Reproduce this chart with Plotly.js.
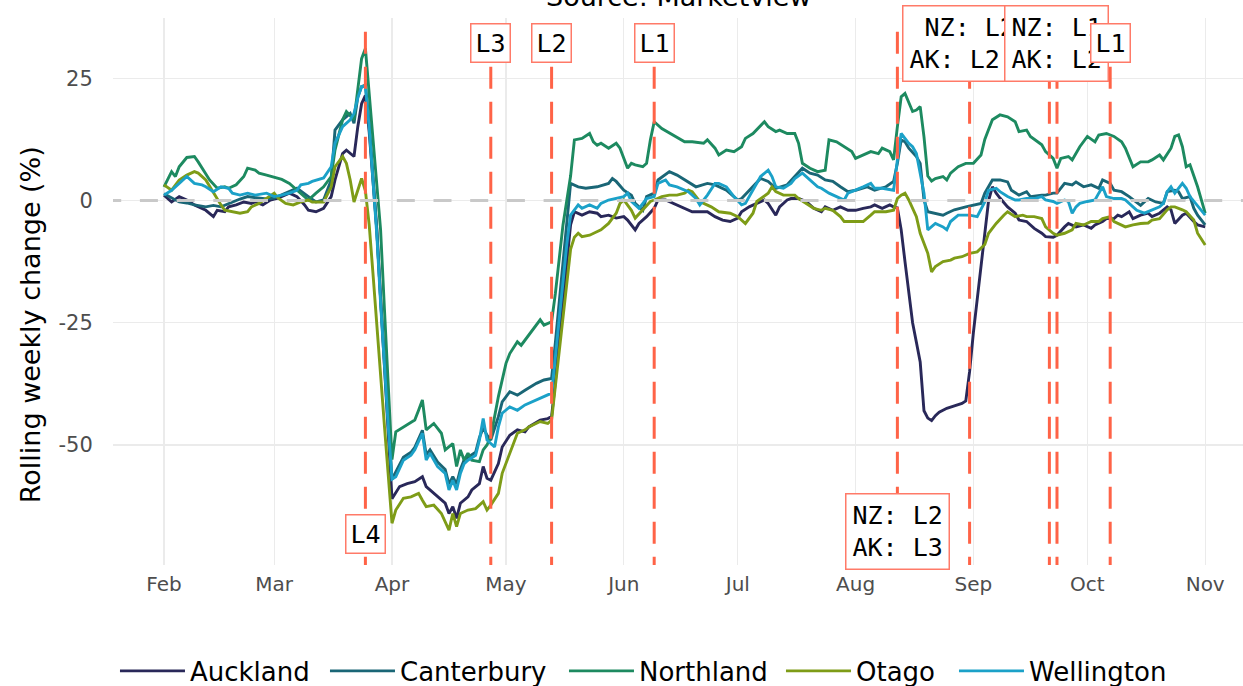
<!DOCTYPE html>
<html><head><meta charset="utf-8">
<script src="https://cdn.plot.ly/plotly-3.0.1.min.js"></script>
<style>html,body{margin:0;padding:0;background:#fff}#chart{width:1243px;height:686px}</style>
</head><body><div id="chart"></div>
<script>
// ---------- DATA ----------
const startDate = '2020-02-01';   // day 0 of every "days" array below
const seriesNames = ['Auckland', 'Canterbury', 'Northland', 'Otago', 'Wellington'];

const aucklandDays = [0,2,4,6,8,9,11,13,14,16,17,19,21,23,24,26,28,30,31,33,35,37,38,40,42,44,45,47,48,50,51,52,53,54,55,56,57,58,59,60,62,64,66,68,69,70,72,74,75,76,77,78,80,81,83,84,85,86,88,89,91,93,95,96,99,101,102,103,104,105,106,107,108,110,112,114,115,117,119,121,122,124,125,127,129,130,132,134,136,137,139,141,143,145,147,149,151,152,154,156,158,159,161,162,164,165,167,169,171,173,174,176,178,180,182,184,186,187,189,191,192,193,194,195,196,197,198,199,200,201,202,203,204,206,208,210,211,212,213,214,215,216,217,218,219,220,222,224,225,227,229,231,232,234,235,237,238,240,242,244,245,247,248,250,251,252,254,255,257,259,260,262,264,265,266,268,269,271,272,274];
const aucklandValues = [1.1,-0.3,0.8,0.1,-0.9,-1.3,-2.0,-3.3,-2.0,-2.3,-1.3,-0.9,-0.3,-0.6,-0.3,-0.9,0.1,0.5,0.8,1.5,0.8,-0.9,-2.0,-2.3,-1.6,0.8,4.2,9.6,10.3,9.0,15.1,19.8,21.5,14,4,-6,-20,-34,-48,-61,-58.5,-57.9,-57.5,-56.5,-58.5,-59.2,-60.6,-61.9,-64.0,-62.6,-65.0,-61.9,-60.6,-59.2,-57.9,-54.4,-56.8,-57.2,-53.8,-50.4,-48.0,-46.9,-47.3,-46.3,-44.9,-44.6,-44.2,-37,-28,-20,-12,-5,-2.3,-3.0,-2.3,-2.6,-3.3,-3.0,-3.6,-3.3,-4.0,-6.0,-4.7,-3.3,-1.6,0.1,0.1,-0.6,-1.3,-1.6,-2.3,-2.3,-2.3,-3.3,-4.0,-4.3,-3.6,-2.3,-1.3,-0.6,0.1,-0.6,-3.0,-1.3,0.1,0.4,0.4,-0.2,-1.6,-2.3,-1.3,-2.0,-1.3,-2.0,-2.0,-1.6,-1.3,-0.9,-1.6,-0.9,-1.3,-1.5,-6,-12.5,-19,-25,-29,-33,-43,-44.5,-45,-44,-43.3,-42.5,-42,-41.5,-41,-35,-27,-20,-13,-6,0,2.8,1.5,0.5,-1.3,-2.6,-4.0,-4.3,-5.7,-6.7,-7.4,-7.5,-7.1,-5.4,-4.7,-5.4,-5.0,-5.7,-5.0,-4.3,-3.7,-3.7,-3.0,-3.3,-2.3,-3.7,-3.0,-2.6,-3.3,-2.6,-1.3,-1.9,-4.7,-3.0,-2.6,-4.3,-5.0,-5.4];

const canterburyDays = [0,2,4,6,8,11,13,15,18,20,22,25,27,29,32,35,38,40,42,44,45,47,49,50,51,52,53,54,55,56,57,58,59,60,61,63,65,66,68,69,70,72,74,75,76,77,78,79,80,82,83,84,85,86,88,89,91,93,95,98,100,102,103,104,105,106,107,109,111,114,117,118,119,121,123,124,126,127,129,130,133,135,137,140,143,145,148,151,152,155,157,159,161,164,166,168,170,172,174,176,178,180,182,185,187,190,192,193,194,195,196,198,199,200,201,203,205,206,208,211,213,215,216,217,218,220,222,223,225,227,228,231,232,234,235,237,239,240,242,244,246,247,249,250,252,254,256,257,259,261,263,264,266,267,268,270,271,272,274];
const canterburyValues = [1.4,0.5,-0.3,-0.5,-0.9,-1.3,-1.0,-1.3,-0.3,0.3,0.8,0.5,0.3,0.5,1.5,2.5,0.8,-0.3,0.1,4.2,14.4,16.5,17.8,15.8,21.2,23.3,23.6,16,5,-6,-20,-33,-46,-57,-55.5,-52.5,-51.5,-50.5,-47,-52,-51,-53.5,-55,-58,-56.5,-58,-55,-53,-52.5,-51.5,-48.5,-46.5,-48,-49,-44.2,-41.2,-39.1,-39.8,-38.8,-37.4,-36.7,-36.4,-29,-21,-13,-5,3.5,2.8,2.5,2.8,3.5,4.5,3.9,2.1,1.1,-0.6,-2.0,0.8,1.5,4.2,5.9,5.2,4.2,2.8,3.5,3.2,2.1,0.1,0.4,2.8,4.5,3.9,2.5,3.2,4.9,6.6,5.6,5.2,4.2,3.9,2.8,1.8,2.1,2.8,2.1,2.8,3.9,7.6,12.4,12.0,10.7,9.0,7.6,0.1,-2.3,-2.6,-3.0,-2.6,-1.9,-1.3,-0.9,-0.6,1.5,2.8,4.2,4.2,3.8,2.1,1.1,1.8,0.8,1.1,1.1,1.5,1.5,3.5,3.2,3.8,2.8,3.2,2.5,4.2,3.5,2.1,1.8,0.8,-0.3,-1.0,0.4,-0.3,-0.6,1.8,2.1,1.8,0.4,0.8,-1.6,-3.0,-5.0];

const northlandDays = [0,2,3,4,6,8,9,10,12,14,16,17,19,21,22,24,25,27,29,31,33,35,37,38,40,42,44,45,47,48,50,51,52,53,54,55,56,57,58,59,60,61,64,66,67,68,69,71,73,74,76,77,78,79,80,81,83,84,85,86,88,90,91,93,94,96,99,100,102,103,104,105,106,107,108,110,112,113,114,115,117,119,120,122,123,124,126,127,128,129,131,134,137,139,142,143,145,146,148,150,152,153,155,158,159,161,162,164,166,167,168,170,172,174,175,177,179,181,182,184,186,188,189,191,192,193,194,195,196,197,198,199,200,201,202,203,205,206,207,209,211,213,215,216,217,218,220,222,224,225,227,228,231,232,234,235,236,238,239,241,243,245,246,248,250,252,253,255,257,259,260,262,263,265,266,267,268,269,270,272,274];
const northlandValues = [2.8,5.9,4.9,6.9,8.8,9.0,7.9,6.6,4.2,2.5,2.8,2.5,3.2,4.9,6.6,6.2,5.6,5.2,4.8,4.3,3.5,2.1,0.8,0.1,1.5,2.8,4.9,10.3,16.5,18.2,16.5,23.3,29.0,31.1,22,13,3,-6,-22,-38,-53,-47.3,-45.9,-44.9,-42.9,-40.8,-46.9,-45.6,-47.6,-51.0,-49.7,-54.4,-51.0,-53.1,-51.7,-53.1,-53.4,-51.0,-50.0,-48.3,-40.1,-33.3,-31.3,-28.9,-29.6,-27.5,-24.4,-25.5,-24.8,-19,-12,-5,0,5,12.4,12.7,13.7,12.0,11.3,11.7,10.7,11.7,10.7,6.6,7.6,7.3,6.9,7.6,12.4,16.1,14.7,13.4,12.0,12.0,11.7,12.4,10.7,9.3,10.3,10.0,11.0,12.7,13.7,16.1,15.1,14.1,14.4,13.7,13.7,11.7,7.6,6.6,5.9,6.2,12.4,12.0,11.0,10.0,8.6,9.3,10.0,9.6,10.7,10.0,8.3,15.1,21.2,21.9,19.9,18.2,18.5,19.2,13,5,4,4.5,4.9,4.2,5.6,6.9,7.6,7.6,9.3,12.5,14.5,16.5,17.5,17.1,16.1,14.1,14.4,13.1,11.4,10.0,8.6,6.6,8.6,9.0,8.3,11.0,13.1,12.0,13.4,13.7,13.1,12.0,10.7,6.9,7.9,7.9,8.3,9.3,8.3,10.7,13.1,13.4,11.0,6.9,7.3,2.8,-2.6];

const otagoDays = [0,2,4,6,8,9,11,13,15,16,18,20,22,23,25,27,29,30,32,34,36,38,39,42,44,45,47,48,49,50,51,52,53,54,55,56,57,58,59,60,61,63,65,67,68,69,71,73,75,76,77,78,80,82,84,85,86,88,89,91,93,95,96,99,101,102,103,104,105,106,107,108,109,110,112,115,117,119,120,121,123,124,126,128,129,131,133,135,137,138,139,141,144,146,149,151,153,155,156,159,160,161,163,166,167,169,171,173,174,176,178,179,181,184,186,187,190,192,193,194,195,196,198,199,201,202,203,205,207,208,210,212,214,216,217,219,221,222,224,226,227,229,231,232,234,235,237,239,240,242,244,246,247,249,250,252,253,255,257,259,260,262,264,265,266,268,269,271,272,274];
const otagoValues = [3.2,2.1,4.2,5.2,5.9,5.6,4.2,1.5,-0.9,-2.0,-2.3,-2.6,-2.3,-1.3,-0.6,0.5,1.5,0.5,-0.6,-0.9,-0.3,0.1,-0.3,-0.3,2.8,6.9,9.0,7.6,4.2,-0.3,2.0,4.5,2.0,-5,-15,-26,-36,-46,-56,-66,-63.3,-60.9,-60.6,-59.9,-61.3,-62.6,-62.3,-64.0,-67.4,-64.0,-66.7,-64.0,-63.3,-63.0,-61.6,-63.3,-62.3,-59.9,-55.8,-51.7,-47.6,-46.9,-46.3,-45.2,-45.6,-44.9,-38,-31,-23,-16,-10,-7.5,-6.7,-7.4,-7.1,-6.0,-4.7,-2.6,-0.6,0.1,-2.0,-3.6,-2.0,-0.2,0.1,0.8,1.1,1.1,1.5,2.1,1.8,-0.2,-1.3,-2.3,-2.6,-3.3,-4.7,-2.6,-0.2,1.5,2.8,1.8,1.1,1.1,0.4,-0.6,-1.6,-2.0,-1.6,-2.0,-3.3,-4.3,-4.3,-4.3,-3.0,-2.3,-2.3,-2.0,0.4,1.1,1.5,0.1,-3.3,-6.7,-10.8,-14.6,-13.5,-12.5,-12.2,-11.8,-11.5,-10.8,-10.5,-9.0,-6.7,-4.7,-3.0,-2.3,-3.3,-3.0,-3.3,-3.3,-3.7,-5.4,-6.7,-7.1,-6.7,-6.0,-4.7,-5.0,-4.3,-4.3,-3.7,-3.3,-4.3,-5.0,-5.4,-5.0,-4.7,-4.6,-4.0,-3.7,-1.9,-1.3,-1.3,-1.9,-2.3,-4.0,-6.7,-9.1];

const wellingtonDays = [0,2,4,6,8,10,11,13,15,17,18,20,22,24,27,29,31,33,35,36,38,39,42,44,45,47,49,50,51,52,53,54,55,56,57,58,59,60,61,63,65,66,68,69,70,72,74,75,76,77,78,79,80,82,83,84,85,86,87,88,89,91,93,95,98,100,102,103,104,105,106,107,108,109,110,112,114,115,117,119,121,122,123,125,127,129,130,132,133,135,137,138,140,141,143,145,146,148,150,152,153,155,157,159,160,161,163,165,166,168,170,172,173,175,177,179,180,182,184,186,187,189,192,193,194,196,197,198,200,201,203,205,206,207,209,212,214,216,217,219,220,222,224,225,227,229,231,232,234,235,237,238,239,240,241,243,245,246,247,248,250,252,253,255,256,258,260,262,263,264,265,266,268,269,270,272,274];
const wellingtonValues = [1.1,2.1,3.5,4.9,3.5,3.2,2.8,1.8,2.8,2.5,1.5,1.1,1.5,1.1,1.5,0.8,1.1,1.5,2.1,3.2,3.5,3.9,4.6,6.9,11.7,15.1,16.5,17.8,21,23.3,23.3,15,4,-7,-21,-34,-46,-57,-56.5,-53.1,-52.1,-51.0,-47.6,-53.1,-51.7,-54.4,-55.8,-59.2,-57.2,-59.2,-55.8,-53.8,-53.1,-52.1,-49.0,-44.6,-49.0,-49.7,-50.4,-46.3,-43.5,-42.2,-42.9,-41.8,-40.8,-40.1,-39.4,-32,-24,-16,-9,-3,-2.0,-0.9,-1.6,-0.9,-1.6,-0.6,0.1,0.4,0.8,1.5,-0.2,-1.6,0.4,0.8,3.5,4.2,3.2,2.8,2.1,1.8,0.4,-0.9,1.1,3.5,3.5,2.8,0.8,-0.9,-0.6,2.1,4.9,6.2,4.9,2.8,2.5,3.5,4.5,5.6,4.2,2.8,2.5,1.5,0.8,0.1,1.5,2.1,2.8,3.5,2.5,2.5,2.1,8.3,13.7,11.7,11.0,9.6,1.5,-6.0,-4.7,-5.4,-6.0,-4.3,-3.0,-3.0,-3.3,-0.3,2.1,2.5,1.8,0.8,0.1,0.1,0.4,0.4,0.8,0.1,-0.2,-0.6,0.1,-0.2,-2.6,-1.3,-0.6,-0.2,0.1,1.5,2.8,0.8,0.4,0.4,0.1,-1.3,-2.0,-2.6,-2.0,-1.3,-0.6,1.8,2.8,1.5,3.5,2.5,0.8,-1.0,-3.0];

// alert-level changes (dashed lines) and their labels
const eventDates = ['2020-03-25','2020-04-27','2020-05-13','2020-06-09','2020-08-12','2020-08-31','2020-09-21','2020-09-23','2020-10-07'];
const labelDates = ['2020-03-25','2020-04-27','2020-05-13','2020-06-09','2020-08-12','2020-08-31','2020-09-23','2020-10-07'];
const labelTexts = ['L4','L3','L2','L1','NZ: L2<br>AK: L3','NZ: L2<br>AK: L2.5','NZ: L1<br>AK: L2','L1'];
const labelSide  = ['bottom','top','top','top','bottom','top','top','top'];

const monthTickDates  = ['2020-02-01','2020-03-01','2020-04-01','2020-05-01','2020-06-01','2020-07-01','2020-08-01','2020-09-01','2020-10-01','2020-11-01'];
const monthTickLabels = ['Feb','Mar','Apr','May','Jun','Jul','Aug','Sep','Oct','Nov'];
const yTickValues = [-50, -25, 0, 25];
const yTickLabels = ['-50', '-25', '0', '25'];

// ---------- STYLE ----------
const colors = {Auckland:'#292859', Canterbury:'#1a6676', Northland:'#1d8a60', Otago:'#7e9c17', Wellington:'#1ba1c8'};
const legendEntryWidths = {Auckland: 130, Canterbury: 159, Northland: 137, Otago: 93, Wellington: 140};
const FONT = 'DejaVu Sans, Verdana, sans-serif';
const MONO = 'DejaVu Sans Mono, monospace';

function dayToDate(d) {
  const t = Date.parse(startDate + 'T00:00:00Z') + d * 86400000;
  return new Date(t).toISOString().slice(0, 10);
}

const seriesData = {
  Auckland: [aucklandDays, aucklandValues],
  Canterbury: [canterburyDays, canterburyValues],
  Northland: [northlandDays, northlandValues],
  Otago: [otagoDays, otagoValues],
  Wellington: [wellingtonDays, wellingtonValues]
};

const traces = seriesNames.map(name => ({
  type: 'scatter', mode: 'lines', name: name,
  x: seriesData[name][0].map(dayToDate),
  y: seriesData[name][1],
  line: {color: colors[name], width: 2.9},
  legendwidth: legendEntryWidths[name],
  hoverinfo: 'skip'
}));

const shapes = [{
  type: 'line', xref: 'x', yref: 'y', x0: '2020-01-16', x1: '2020-11-20', y0: 0, y1: 0,
  line: {color: '#c9c9c9', width: 3, dash: '18px,18.7px'}, layer: 'above'
}].concat(eventDates.map(d => ({
  type: 'line', xref: 'x', yref: 'y', x0: d, x1: d, y0: 34.5, y1: -75,
  line: {color: '#ff6347', width: 3, dash: '22px,13px'}, layer: 'above'
})));

const annotations = labelTexts.map((t, i) => {
  const twoLine = t.indexOf('<br>') >= 0;
  let yv;
  if (labelSide[i] === 'top') yv = 32.2;
  else yv = twoLine ? -67.6 : -68.3;
  return {
    xref: 'x', yref: 'y', x: labelDates[i], y: yv, text: t, showarrow: false,
    xanchor: 'center', yanchor: 'middle', align: 'center',
    font: {family: MONO, size: 25, color: '#000'},
    bgcolor: '#ffffff', bordercolor: '#ff7a68', borderwidth: 1.5, borderpad: twoLine ? 6 : 4
  };
});

annotations.push({
  xref: 'paper', yref: 'paper', x: 0.5, y: 1.040, xanchor: 'center', yanchor: 'middle',
  text: 'Source: Marketview', showarrow: false, font: {family: FONT, size: 27, color: '#000'}
});
annotations.push({
  xref: 'paper', yref: 'paper', x: -0.0735, y: 0.440, xanchor: 'center', yanchor: 'middle',
  text: 'Rolling weekly change (%)', textangle: -90, showarrow: false,
  font: {family: FONT, size: 27, color: '#000'}
});

const layout = {
  width: 1243, height: 686, autosize: false,
  margin: {l: 113, r: 0, t: 18, b: 121},
  paper_bgcolor: '#ffffff', plot_bgcolor: '#ffffff',
  showlegend: true,
  legend: {
    orientation: 'h', xref: 'container', yref: 'container', x: 0.0925, y: 0.0219,
    xanchor: 'left', yanchor: 'middle', font: {family: FONT, size: 26, color: '#000'},
    itemwidth: 65, bgcolor: 'rgba(0,0,0,0)'
  },
  xaxis: {
    type: 'date', range: ['2020-01-18 13:55', '2020-11-10 22:48'],
    tickmode: 'array', tickvals: monthTickDates, ticktext: monthTickLabels,
    showgrid: true, gridcolor: '#ebebeb', gridwidth: 1.1, zeroline: false, showline: false,
    ticks: 'outside', ticklen: 1, tickcolor: 'rgba(0,0,0,0)',
    tickfont: {family: FONT, size: 20, color: '#4d4d4d'}
  },
  yaxis: {
    range: [-74.54, 37.32],
    tickmode: 'array', tickvals: yTickValues, ticktext: yTickLabels,
    showgrid: true, gridcolor: '#ebebeb', gridwidth: 1.1, zeroline: false, showline: false,
    ticks: 'outside', ticklen: 15, tickcolor: 'rgba(0,0,0,0)',
    tickfont: {family: FONT, size: 21, color: '#4d4d4d'}
  },
  shapes: shapes,
  annotations: annotations
};

Plotly.newPlot('chart', traces, layout, {staticPlot: true, displayModeBar: false});
</script>
</body></html>
